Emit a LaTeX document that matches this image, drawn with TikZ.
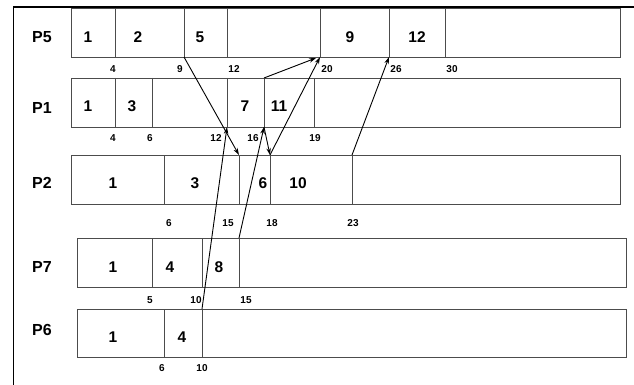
\documentclass[tikz,border=0pt]{standalone}
\usepackage{fontspec}
\setmainfont{Liberation Sans}
\usetikzlibrary{arrows.meta}
\begin{document}
\begin{tikzpicture}[x=1pt,y=-1pt,
  rowbox/.style={draw=black!70,line width=0.9pt},
  divider/.style={draw=black!70,line width=0.9pt},
  plabel/.style={font=\bfseries\fontsize{16}{16}\selectfont,inner sep=0pt},
  blabel/.style={font=\bfseries\fontsize{15.5}{15.5}\selectfont,inner sep=0pt},
  tlabel/.style={font=\bfseries\fontsize{10}{10}\selectfont,inner sep=0pt},
  msg/.style={draw=black,line width=0.9pt,-{Stealth[length=7pt,width=4.5pt]}},
  frame/.style={draw=black}]
\useasboundingbox (0,0) rectangle (634,385);
% frame
\draw[frame,line width=2pt] (13,7.5) -- (634,7.5);
\draw[frame,line width=1pt] (13,7) -- (13,385);
% rows
\draw[rowbox] (71,8) rectangle (620,57);
\draw[rowbox] (71,78) rectangle (620,127);
\draw[rowbox] (71,155) rectangle (620,204);
\draw[rowbox] (77,238) rectangle (626,287);
\draw[rowbox] (77,309) rectangle (626,357);
% P5 dividers
\foreach \x/\n in {115/a,184/b,227/c,320/d,389/e,445/f}{
  \coordinate (p5t\n) at (\x,8); \coordinate (p5b\n) at (\x,57);
  \draw[divider] (p5t\n) -- (p5b\n);}
% P1 dividers
\foreach \x/\n in {115/a,152/b,227/c,264/d,314/e}{
  \coordinate (p1t\n) at (\x,78); \coordinate (p1b\n) at (\x,127);
  \draw[divider] (p1t\n) -- (p1b\n);}
% P2 dividers
\foreach \x/\n in {164/a,239/b,270/c,352/d}{
  \coordinate (p2t\n) at (\x,155); \coordinate (p2b\n) at (\x,204);
  \draw[divider] (p2t\n) -- (p2b\n);}
% P7 dividers
\foreach \x/\n in {152/a,202/b,239/c}{
  \coordinate (p7t\n) at (\x,238); \coordinate (p7b\n) at (\x,287);
  \draw[divider] (p7t\n) -- (p7b\n);}
% P6 dividers
\foreach \x/\n in {164/a,202/b}{
  \coordinate (p6t\n) at (\x,309); \coordinate (p6b\n) at (\x,357);
  \draw[divider] (p6t\n) -- (p6b\n);}
% row labels
\node[plabel] (lp5) at (42,37) {P5};
\node[plabel] (lp1) at (42,108) {P1};
\node[plabel] (lp2) at (42,183) {P2};
\node[plabel] (lp7) at (42,267) {P7};
\node[plabel] (lp6) at (42,330) {P6};
% box labels
\node[blabel] (b51) at (88,37) {1};
\node[blabel] (b52) at (138,37) {2};
\node[blabel] (b55) at (200,37) {5};
\node[blabel] (b59) at (350,37) {9};
\node[blabel] (b512) at (417,37) {12};
\node[blabel] (b11) at (88,106) {1};
\node[blabel] (b13) at (132,106) {3};
\node[blabel] (b17) at (245,106) {7};
\node[blabel] (b111) at (279,106) {11};
\node[blabel] (b21) at (113,183) {1};
\node[blabel] (b23) at (195,183) {3};
\node[blabel] (b26) at (263,183) {6};
\node[blabel] (b210) at (298,183) {10};
\node[blabel] (b71) at (113,267) {1};
\node[blabel] (b74) at (170,267) {4};
\node[blabel] (b78) at (219,267) {8};
\node[blabel] (b61) at (113,337) {1};
\node[blabel] (b64) at (182,337) {4};
% time labels
\node[tlabel] (t54) at (113,69) {4};
\node[tlabel] (t59) at (180,69) {9};
\node[tlabel] (t512) at (234,69) {12};
\node[tlabel] (t520) at (327,69) {20};
\node[tlabel] (t526) at (396,69) {26};
\node[tlabel] (t530) at (452,69) {30};
\node[tlabel] (t14) at (113,138) {4};
\node[tlabel] (t16) at (150,138) {6};
\node[tlabel] (t112) at (216,138) {12};
\node[tlabel] (t116) at (253,138) {16};
\node[tlabel] (t119) at (315,138) {19};
\node[tlabel] (t26) at (169,223) {6};
\node[tlabel] (t215) at (228,223) {15};
\node[tlabel] (t218) at (272,223) {18};
\node[tlabel] (t223) at (353,223) {23};
\node[tlabel] (t75) at (150,300) {5};
\node[tlabel] (t710) at (196,300) {10};
\node[tlabel] (t715) at (246,300) {15};
\node[tlabel] (t66) at (162,368) {6};
\node[tlabel] (t610) at (202,368) {10};
% messages
\coordinate (p5bdL) at (316,58);
\draw[msg] (p5bb) -- (p2tb);
\draw[msg] (p1td) -- (p5bdL);
\draw[msg] (p2tc) -- (p5bd);
\draw[msg] (p1bd) -- (p2tc);
\draw[msg] (p7tc) -- (p1bd);
\draw[msg] (p6tb) -- (p1bc);
\draw[msg] (p2td) -- (p5be);
\end{tikzpicture}
\end{document}
